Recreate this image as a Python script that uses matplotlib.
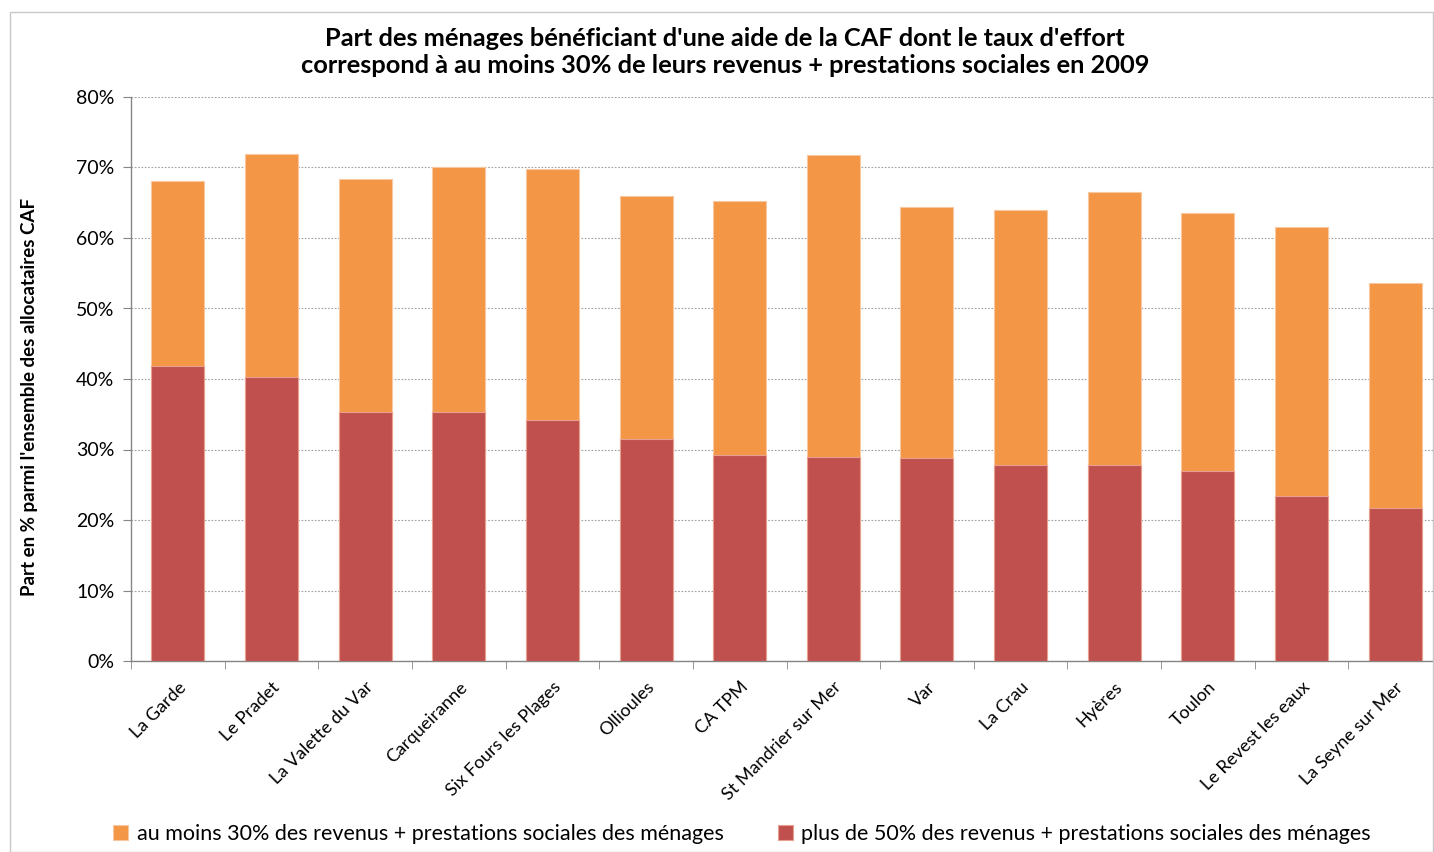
import matplotlib
matplotlib.use("Agg")
import matplotlib.pyplot as plt
from matplotlib.patches import Rectangle
from matplotlib.ticker import FuncFormatter, FixedLocator

communes = ["La Garde", "Le Pradet", "La Valette du Var", "Carqueiranne",
            "Six Fours les Plages", "Ollioules", "CA TPM", "St Mandrier sur Mer",
            "Var", "La Crau", "Hyères", "Toulon", "Le Revest les eaux",
            "La Seyne sur Mer"]
au_moins_30 = [68.1, 71.9, 68.4, 70.1, 69.8, 66.0, 65.2, 71.8, 64.4, 64.0, 66.5, 63.5, 61.6, 53.6]
plus_de_50 = [41.8, 40.3, 35.3, 35.3, 34.2, 31.5, 29.2, 28.9, 28.8, 27.8, 27.8, 27.0, 23.4, 21.7]

label30 = "au moins 30% des revenus + prestations sociales des ménages"
label50 = "plus de 50% des revenus + prestations sociales des ménages"
title = ("Part des ménages bénéficiant d'une aide de la CAF dont le taux d'effort\n"
         "correspond à au moins 30% de leurs revenus + prestations sociales en 2009")
ylabel = "Part en % parmi l'ensemble des allocataires CAF"

plt.rcParams['font.family'] = ['Lato', 'DejaVu Sans']

fig = plt.figure(figsize=(14.34, 8.52), dpi=100)
ax = fig.add_axes([131/1434, 1-661/852, (1442-131)/1434, (661-97)/852])

x = list(range(len(communes)))
b1 = ax.bar(x, au_moins_30, width=0.566, color="#F39646", edgecolor="#F8C8A0", linewidth=0.8,
            label=label30, zorder=3)
b2 = ax.bar(x, plus_de_50, width=0.566, color="#C0504D", edgecolor="#E8A090", linewidth=0.8,
            label=label50, zorder=4)

ax.set_xlim(-0.5, len(communes) - 0.5)
ax.set_ylim(0, 80)
ax.yaxis.set_major_locator(FixedLocator([0, 10, 20, 30, 40, 50, 60, 70, 80]))
ax.yaxis.set_major_formatter(FuncFormatter(lambda v, p: f"{int(v)}%"))
ax.yaxis.grid(True, linestyle=(0, (1.5, 1.5)), color="#A0A0A0", linewidth=0.8, zorder=0)
ax.set_axisbelow(True)

ax.set_xticks(x)
ax.set_xticklabels(communes, rotation=45, ha="right", rotation_mode="anchor", fontsize=13)
ax.tick_params(axis="x", length=0, pad=13)
ax.set_xticks([i + 0.5 for i in range(-1, len(communes))], minor=True)
ax.tick_params(axis="x", which="minor", length=6, color="#868686", direction="out")
ax.tick_params(axis="y", length=6, color="#868686", labelsize=14, pad=6)

for s in ["top", "right"]:
    ax.spines[s].set_visible(False)
for s in ["left", "bottom"]:
    ax.spines[s].set_color("#868686")
    ax.spines[s].set_linewidth(1.0)

fig.text(725/1434, 1 - 52/852, title, ha="center", va="center",
         fontsize=18.3, fontweight="bold", linespacing=1.25)
fig.text(30/1434, 1 - 397/852, ylabel, rotation=90, ha="center", va="center",
         fontsize=13.5, fontweight="bold")

handles = [b1, b2]
fig.legend(handles, [label30, label50], loc="center", bbox_to_anchor=(742/1434, 1 - 834/852),
           ncol=2, frameon=False, fontsize=15.5, handlelength=0.7, handleheight=0.7,
           columnspacing=2.5, handletextpad=0.4)

fig.patches.append(Rectangle((10/1434, 0), 1 - 11/1434, 1 - 12/852, transform=fig.transFigure,
                             fill=False, edgecolor="#C8C8C8", linewidth=1.0))

fig.savefig("out.png", dpi=100)
